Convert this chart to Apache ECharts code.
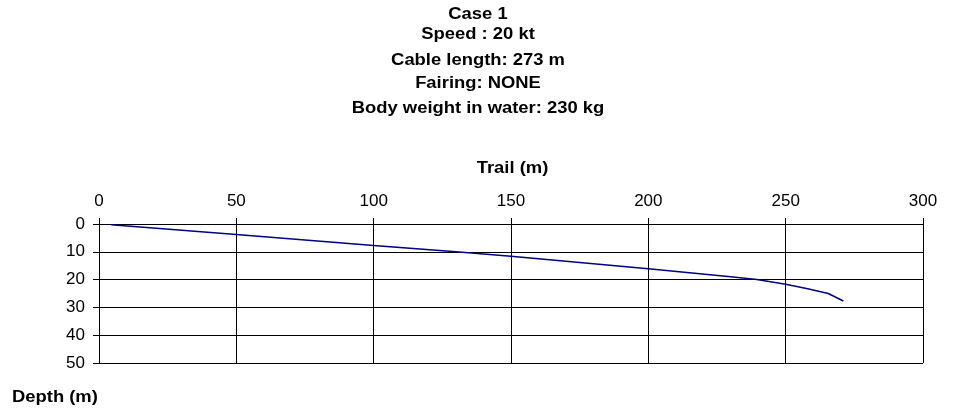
<!DOCTYPE html>
<html><head><meta charset="utf-8">
<script src="https://cdn.jsdelivr.net/npm/echarts@6/dist/echarts.min.js"></script>
<style>html,body{margin:0;padding:0;background:#fff}#c{width:959px;height:410px}</style>
</head><body><div id="c"></div>
<script>
const titleLines = ['Case 1', 'Speed : 20 kt', 'Cable length: 273 m', 'Fairing: NONE', 'Body weight in water: 230 kg'];
const titleY = [15, 34.5, 61, 84, 108.5];
const xAxisName = 'Trail (m)';
const yAxisName = 'Depth (m)';
const trail = [4.5, 50, 100, 130, 150, 200, 230, 239.5, 250, 258, 265.5, 271];
const depth = [0.3, 3.8, 7.7, 10, 11.6, 16.1, 19.0, 20.0, 21.7, 23.3, 25.0, 27.7];

const chart = echarts.init(document.getElementById('c'), null, {renderer: 'canvas'});
const font = 'Arial, "Liberation Sans", sans-serif';
const boldFont = 'bold 16px Arial, "Liberation Sans", sans-serif';
const sx = 1.15;
function label(text, x, y, align) {
  return {
    type: 'text', x: x, y: y, scaleX: sx, silent: true,
    style: {text: text, x: 0, y: 0, align: align, verticalAlign: 'middle',
            font: boldFont, fill: '#000'}
  };
}
const graphics = titleLines.map((t, i) => label(t, 478, titleY[i], 'center'));
graphics.push(label(xAxisName, 512.5, 169, 'center'));
graphics.push(label(yAxisName, 12, 398, 'left'));

chart.setOption({
  animation: false,
  graphic: graphics,
  grid: {left: 99, right: 36, top: 224, height: 139},
  xAxis: {
    type: 'value', position: 'top', min: 0, max: 300, interval: 50,
    axisLine: {show: true, lineStyle: {color: '#000', width: 1}},
    axisTick: {show: true, length: 6, lineStyle: {color: '#000'}},
    axisLabel: {fontFamily: font, fontSize: 17, color: '#000', margin: 14},
    splitLine: {show: true, lineStyle: {color: '#000', width: 1}}
  },
  yAxis: {
    type: 'value', inverse: true, min: 0, max: 50, interval: 10,
    axisLine: {show: true, lineStyle: {color: '#000', width: 1}},
    axisTick: {show: true, length: 6, lineStyle: {color: '#000'}},
    axisLabel: {fontFamily: font, fontSize: 17, color: '#000', margin: 14},
    splitLine: {show: true, lineStyle: {color: '#000', width: 1}}
  },
  series: [{
    type: 'line', data: trail.map((x, i) => [x, depth[i]]),
    showSymbol: false, smooth: false,
    lineStyle: {color: '#000080', width: 1.5}
  }]
});
</script></body></html>
